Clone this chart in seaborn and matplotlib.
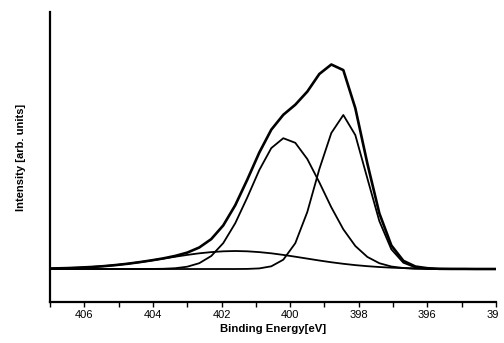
import matplotlib
matplotlib.use("Agg")
import matplotlib.pyplot as plt
import seaborn as sns
from matplotlib.ticker import MultipleLocator
from matplotlib.patches import Rectangle

# ---------------------------------------------------
# DATA
# ---------------------------------------------------

energy = [407.0, 406.5, 406.15, 405.8, 405.45, 405.1, 404.75, 404.4, 404.05,
          403.7, 403.35, 403.0, 402.65, 402.3, 401.95, 401.6, 401.25, 400.9,
          400.55, 400.2, 399.85, 399.5, 399.15, 398.8, 398.45, 398.1, 397.75,
          397.4, 397.05, 396.7, 396.35, 396.0, 395.65, 395.3, 394.95, 394.6,
          394.25, 394.0]

envelope = [0.5, 0.9, 1.4, 2.0, 2.8, 3.9, 5.2, 6.8, 8.6,
            10.6, 13.1, 16.4, 21.5, 29.9, 43.6, 63.8, 89.3, 116.4,
            139.3, 154.2, 164.3, 177.4, 195.0, 204.5, 198.9, 160.8, 105.6,
            55.7, 23.6, 8.2, 2.5, 0.8, 0.2, 0.1, 0.1, 0.0,
            0.0, 0.0]

peak_400 = [0, 0, 0, 0, 0, 0, 0, 0.01, 0.07,
            0.24, 0.8, 2.3, 5.8, 13.0, 25.9, 45.8, 71.5, 98.9,
            120.9, 130.8, 126.2, 110.0, 86.7, 61.7, 39.7, 23.0, 12.1,
            5.8, 2.5, 1.0, 0.3, 0.1, 0, 0, 0, 0,
            0, 0]

peak_398 = [0, 0, 0, 0, 0, 0, 0, 0, 0,
            0, 0, 0, 0, 0, 0, 0, 0.1, 0.6,
            2.7, 9.3, 25.8, 57.0, 99.8, 136.0, 154.0, 133.9, 90.7,
            47.9, 19.7, 6.3, 1.6, 0.3, 0, 0, 0, 0,
            0, 0]

peak_broad = [0.47, 0.90, 1.35, 1.98, 2.83, 3.89, 5.21, 6.75, 8.5,
              10.4, 12.3, 14.1, 15.7, 16.9, 17.7, 18.0, 17.7, 16.9,
              15.7, 14.1, 12.3, 10.4, 8.5, 6.75, 5.21, 3.89, 2.83,
              1.98, 1.35, 0.90, 0.57, 0.36, 0.21, 0.13, 0.07, 0.04,
              0.02, 0.01]

x_major = [406, 404, 402, 400, 398, 396, 394]

# ---------------------------------------------------
# STYLE
# ---------------------------------------------------

sns.set_style("ticks")
plt.rcParams["font.family"] = ["Liberation Sans", "DejaVu Sans"]
plt.rcParams["text.color"] = "black"
plt.rcParams["axes.labelcolor"] = "black"

fig = plt.figure(figsize=(5.04, 3.43), dpi=100)
ax = fig.add_axes([0.0992, 0.1195, 0.8849, 0.8455])

# ---------------------------------------------------
# CURVES
# ---------------------------------------------------

sns.lineplot(x=energy, y=peak_broad, color="black", linewidth=1.3, ax=ax)
sns.lineplot(x=energy, y=peak_400, color="black", linewidth=1.3, ax=ax)
sns.lineplot(x=energy, y=peak_398, color="black", linewidth=1.3, ax=ax)
sns.lineplot(x=energy, y=envelope, color="black", linewidth=1.9, ax=ax)

# ---------------------------------------------------
# AXES
# ---------------------------------------------------

ax.set_xlim(407, 394)
ax.set_ylim(-33, 257)

ax.set_xticks(x_major)
ax.xaxis.set_minor_locator(MultipleLocator(1))
ax.set_yticks([])

ax.tick_params(axis="x", which="both", direction="out", length=3.5,
               width=1.0, labelsize=8, pad=2, colors="black")

sns.despine(ax=ax)
for side in ["left", "bottom"]:
    ax.spines[side].set_linewidth(1.6)
    ax.spines[side].set_color("black")

ax.set_xlabel("Binding Energy[eV]", fontsize=8.2, fontweight="bold",
              labelpad=3)
ax.set_ylabel("Intensity [arb. units]", fontsize=8, fontweight="bold",
              labelpad=17)

# scan is cropped just right of the last tick
fig.patches.append(Rectangle((498 / 504, 0), 6 / 504, 1, transform=fig.transFigure,
                             facecolor="white", edgecolor="none", zorder=10))

plt.savefig("out.png", dpi=100)
plt.close()
